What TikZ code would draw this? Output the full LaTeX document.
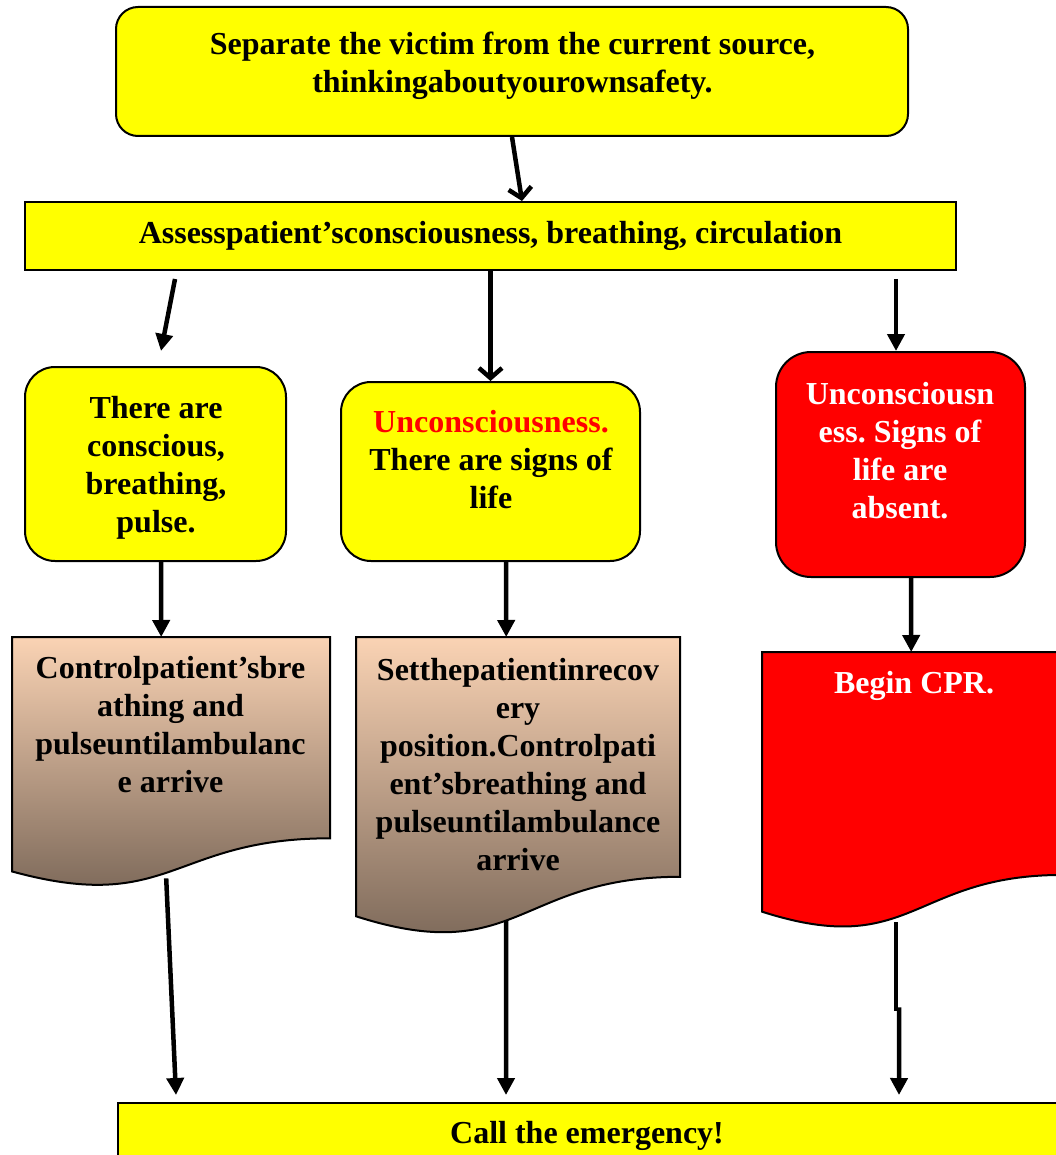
\documentclass[tikz,border=0pt]{standalone}
\usepackage{fontspec}
\setmainfont{Liberation Serif}
\usetikzlibrary{arrows.meta,calc}
\frenchspacing
\definecolor{boxyellow}{RGB}{255,255,0}
\definecolor{boxred}{RGB}{255,0,0}
\definecolor{docpeach}{RGB}{250,211,180}
\definecolor{docbrown}{RGB}{114,96,82}
\begin{document}
\begin{tikzpicture}[
  x=1pt, y=-1pt,
  font=\fontsize{32}{38}\selectfont\bfseries,
  box/.style={draw=black, line width=2pt, inner sep=0pt},
  ybox/.style={box, fill=boxyellow},
  rbox/.style={box, fill=boxred},
  txt/.style={align=center, inner sep=0pt},
  docfill/.style={draw=black, line width=2pt, top color=docpeach, bottom color=docbrown},
  docred/.style={draw=black, line width=2pt, fill=boxred},
  link/.style={line width=4.5pt},
  arr/.style={link, -{Triangle[length=17pt,width=17pt]}},
  barb/.style={link, -{Straight Barb[length=10pt,width=23pt]}},
]
\useasboundingbox (0,0) rectangle (1055,1155);
\providecommand{\flowdoc}[6]{%
  \path[#6] (#2,#3) -- (#2+#4,#3) -- (#2+#4,#3+0.802*#5)
    .. controls (#2+0.5*#4,#3+0.802*#5) and (#2+0.5*#4,#3+1.1075*#5) .. (#2,#3+0.934*#5) -- cycle;
  \node[inner sep=0pt, minimum width=#4, minimum height=#5, anchor=north west] (#1) at (#2,#3) {};
}
\node[ybox, rounded corners=22pt, minimum width=792, minimum height=129] (src) at (512,71.5) {};
\node[ybox, minimum width=931, minimum height=68] (assess) at (490.5,236) {};
\node[ybox, rounded corners=30pt, minimum width=261, minimum height=194] (boxA) at (155.5,464) {};
\node[ybox, rounded corners=30pt, minimum width=299, minimum height=179] (boxB) at (490.5,471.5) {};
\node[rbox, rounded corners=35pt, minimum width=249, minimum height=225] (boxC) at (900.5,464.5) {};
\flowdoc{docA}{12}{637}{318}{251}{docfill}
\flowdoc{docB}{356}{637}{324}{299}{docfill}
\flowdoc{docC}{762}{652}{300}{278}{docred}
\node[ybox, minimum width=945, minimum height=63, anchor=north west] (call) at (117,1102) {};

\node[txt] (src-t) at (512.5,66) {Separate the victim from the current source,\\thinkingaboutyourownsafety.};
\node[txt] (assess-t) at (490.5,236) {Assesspatient’sconsciousness, breathing, circulation};
\node[txt] (boxA-t) at (156,468) {There are\\conscious,\\breathing,\\pulse.};
\node[txt] (boxB-t) at (491,460) {\textcolor{red}{Unconsciousness.}\\There are signs of\\life};
\node[txt, text=white] (boxC-t) at (900,450.5) {Unconsciousn\\ess. Signs of\\life are\\absent.};
\node[txt] (docA-t) at (170.5,725) {Controlpatient’sbre\\athing and\\pulseuntilambulanc\\e arrive};
\node[txt] (docB-t) at (518,765) {Setthepatientinrecov\\ery\\position.Controlpati\\ent’sbreathing and\\pulseuntilambulance\\arrive};
\node[txt, text=white] (docC-t) at (914,686) {Begin CPR.};
\node[txt] (call-t) at (587,1136) {Call the emergency!};

\draw[barb] (src.south) -- ($(assess.north)+(31.5,0)$);
\draw[arr] ($(assess.south)+(-315.5,8)$) -- ($(boxA.north)+(5.5,-15)$);
\draw[barb] (assess.south) -- (boxB.north);
\draw[arr] ($(assess.south-|boxC.north)+(-4.5,8)$) -- ($(boxC.north)+(-4.5,0)$);
\draw[arr] ($(boxA.south)+(5.5,0)$) -- ($(docA.north)+(-10,0)$);
\draw[arr] ($(boxB.south)+(15.5,0)$) -- ($(docB.north)+(-12,0)$);
\draw[arr] ($(boxC.south)+(10.5,0)$) -- ($(docC.north)+(-1,0)$);
\draw[arr] ($(docA.south)+(-5,-10)$) -- ($(call.north west)+(59,-7)$);
\draw[arr] ($(docB.south)+(-12,-16)$) -- ($(call.north west)+(389,-7)$);
\draw[link] ($(docC.south)+(-16,-8)$) -- ++(0,89) coordinate (jog);
\draw[arr] ($(jog)+(3,-4)$) -- ($(call.north west)+(782,-7)$);
\end{tikzpicture}
\end{document}
